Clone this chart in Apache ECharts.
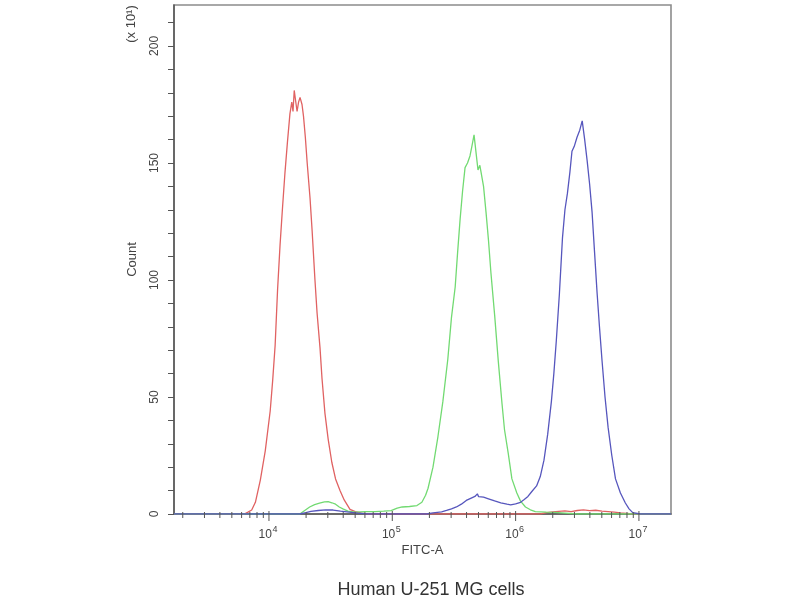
<!DOCTYPE html>
<html><head><meta charset="utf-8">
<script src="https://cdn.jsdelivr.net/npm/echarts@6/dist/echarts.min.js"></script>
<style>html,body{margin:0;padding:0;background:#fff}#c{width:800px;height:600px}</style>
</head><body><div id="c"></div>
<script>
// x values are log10(FITC-A); y values are Count (x10^1)
const redLog = [3.23,3.80,3.83,3.86,3.89,3.93,3.97,4.01,4.03,4.05,4.07,4.09,4.11,4.13,4.15,4.17,4.185,4.195,4.205,4.215,4.228,4.24,4.252,4.268,4.28,4.295,4.31,4.333,4.35,4.373,4.39,4.414,4.43,4.454,4.48,4.51,4.54,4.576,4.61,4.657,4.70,4.75,4.80,6.20,6.25,6.30,6.35,6.40,6.45,6.50,6.55,6.60,6.65,6.70,6.75,6.80,6.85,6.90,6.95,7.26];
const redCount = [0,0,0.8,1.7,5,14.5,27,44,57,72,96,115,131,146,159,171,176,172,181,177,172,176,178,175,170,161,150,135,121,100,86,71,58,43,32,22,15,10,6,2,1,0.4,0,0,0.6,0.9,1.1,1.3,1.0,1.5,1.8,1.4,1.6,1.2,1.0,0.8,0.5,0.3,0,0];

const greenLog = [3.23,4.25,4.29,4.33,4.37,4.41,4.45,4.48,4.51,4.54,4.57,4.60,4.64,4.70,4.78,4.86,4.93,4.99,5.04,5.08,5.14,5.20,5.24,5.27,5.29,5.33,5.37,5.41,5.45,5.48,5.51,5.53,5.55,5.57,5.59,5.61,5.63,5.645,5.663,5.68,5.695,5.71,5.72,5.74,5.76,5.78,5.80,5.83,5.86,5.89,5.91,5.94,5.97,6.01,6.04,6.08,6.12,6.16,6.25,6.32,6.40,6.50,7.26];
const greenCount = [0,0,1.5,3,4,4.6,5.2,5.3,4.8,4.2,3,2.2,1.2,0.8,1,1,1.2,1.4,2.5,3,3.2,3.6,5,8,11,20,33,48,66,84,97,112,126,138,148,150,153,157,162,154,147,149,146,140,129,117,103,85,65,47,36,26,15,9,5.5,3,1.8,1.0,0.8,0.7,0.4,0,0];

const blueLog = [3.23,4.25,4.30,4.34,4.40,4.46,4.52,4.58,4.65,4.72,4.80,5.28,5.33,5.40,5.44,5.48,5.52,5.56,5.60,5.64,5.67,5.69,5.70,5.715,5.74,5.78,5.83,5.88,5.93,5.96,6.00,6.04,6.07,6.10,6.13,6.17,6.20,6.23,6.26,6.29,6.31,6.33,6.355,6.38,6.40,6.42,6.44,6.457,6.475,6.498,6.52,6.54,6.56,6.58,6.60,6.62,6.64,6.66,6.68,6.70,6.725,6.75,6.78,6.81,6.85,6.89,6.92,6.95,7.01,7.26];
const blueCount = [0,0,0.6,1.1,1.5,1.8,1.7,1.2,0.8,0.4,0,0,0.5,0.9,1.5,2.2,3,4.2,5.8,6.8,7.5,8.6,7.4,8.2,7.2,6.5,5.6,4.8,4.2,3.9,4.3,5,6.2,7.5,9.5,12,16,23,34,48,60,74,94,118,130,137,146,155,157,161,164,168,160,151,141,129,112,95,80,66,50,37,25,15,9,4.7,2.2,0.6,0,0];

// axis ticks (FITC-A values) and labels
const xMajorValues = [1e4,1e5,1e6,1e7];
const xMajorExp = ['4','5','6','7'];
const xMinorValues = [2e3,3e3,4e3,5e3,6e3,7e3,8e3,9e3,2e4,3e4,4e4,5e4,6e4,7e4,8e4,9e4,2e5,3e5,4e5,5e5,6e5,7e5,8e5,9e5,2e6,3e6,4e6,5e6,6e6,7e6,8e6,9e6];
const yTickValues = [0,10,20,30,40,50,60,70,80,90,100,110,120,130,140,150,160,170,180,190,200,210];
const yLabelValues = [0,50,100,150,200];

const pair = (xs, ys) => xs.map((x,i)=>[x, ys[i]]);
const axisCol = '#555';
const txtCol = '#444';
const FONT = 'Liberation Sans, Arial, sans-serif';

const chart = echarts.init(document.getElementById('c'), null, {renderer:'canvas'});
chart.setOption({
  animation:false,
  backgroundColor:'#fff',
  grid:{left:174,right:129,top:5,bottom:86,show:true,borderColor:'#8c8c8c',borderWidth:1.6,backgroundColor:'transparent'},
  xAxis:{type:'value',min:3.23,max:7.26,
    axisLine:{show:true,onZero:false,lineStyle:{color:axisCol,width:1.5}},
    axisTick:{show:false},axisLabel:{show:false},splitLine:{show:false},
    name:'FITC-A',nameLocation:'middle',nameGap:30,
    nameTextStyle:{color:txtCol,fontSize:13,fontFamily:FONT}},
  yAxis:{type:'value',min:0,max:217.5,interval:50,
    axisLine:{show:true,lineStyle:{color:axisCol,width:1.5}},
    axisTick:{show:true,customValues:yTickValues,length:6,lineStyle:{color:axisCol,width:1}},
    axisLabel:{show:true,customValues:yLabelValues,rotate:90,margin:13,color:txtCol,fontSize:12,fontFamily:FONT},
    splitLine:{show:false},
    name:'Count',nameLocation:'middle',nameRotate:90,nameGap:35,
    nameTextStyle:{color:txtCol,fontSize:13,fontFamily:FONT}},
  graphic:[
    {type:'text',x:131,y:24,rotation:Math.PI/2,style:{text:'(x 10\u00b9)',fill:txtCol,font:'13px '+FONT,align:'center',verticalAlign:'middle'}},
    {type:'text',x:431,y:590,style:{text:'Human U-251 MG cells',fill:'#333',font:'18px '+FONT,align:'center',verticalAlign:'middle'}}
  ],
  series:[
    {type:'line',data:pair(redLog,redCount),symbol:'none',lineStyle:{color:'#e06262',width:1.3},z:3},
    {type:'line',data:pair(greenLog,greenCount),symbol:'none',lineStyle:{color:'#72da72',width:1.3},z:4},
    {type:'line',data:pair(blueLog,blueCount),symbol:'none',lineStyle:{color:'#5656bd',width:1.3},z:5},
    {type:'custom',coordinateSystem:'cartesian2d',clip:false,silent:true,z:6,
      data:xMinorValues.map(v=>[Math.log10(v),0]),
      renderItem:(params,api)=>{const p=api.coord([api.value(0),0]);
        return {type:'line',shape:{x1:p[0],y1:p[1]-2,x2:p[0],y2:p[1]+4},style:{stroke:axisCol,lineWidth:1}};}},
    {type:'custom',coordinateSystem:'cartesian2d',clip:false,silent:true,z:6,
      data:xMajorValues.map((v,i)=>[Math.log10(v),0,i]),
      renderItem:(params,api)=>{const p=api.coord([api.value(0),0]);const e=xMajorExp[api.value(2)];
        return {type:'group',children:[
          {type:'line',shape:{x1:p[0],y1:p[1]-3,x2:p[0],y2:p[1]+7},style:{stroke:axisCol,lineWidth:1}},
          {type:'text',style:{text:'10',x:p[0]+3,y:p[1]+21,align:'right',verticalAlign:'middle',fill:txtCol,font:'12px '+FONT}},
          {type:'text',style:{text:e,x:p[0]+3.5,y:p[1]+16,align:'left',verticalAlign:'middle',fill:txtCol,font:'9px '+FONT}}
        ]};}}
  ]
});
</script></body></html>
